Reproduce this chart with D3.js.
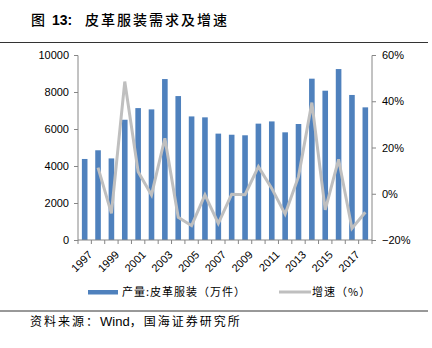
<!DOCTYPE html>
<html><head><meta charset="utf-8">
<script src="https://cdn.jsdelivr.net/npm/d3@7"></script>
<style>body{margin:0;background:#fff;}svg{display:block;}</style>
</head><body>
<script>
const years = ["1997","1998","1999","2000","2001","2002","2003","2004","2005","2006","2007","2008","2009","2010","2011","2012","2013","2014","2015","2016","2017","2018"];
const output = [4380,4850,4410,6500,7130,7060,8700,7780,6680,6630,5750,5690,5660,6290,6410,5820,6270,8720,8070,9240,7840,7170];
const growth = [null,11.3,-8.5,48.5,9.5,-0.5,24.0,-10.2,-13.8,-0.5,-12.8,-0.2,-0.4,11.7,2.3,-8.8,7.4,39.4,-7.0,14.9,-15.0,-8.0];
const leftTicks = [0,2000,4000,6000,8000,10000];
const rightTicks = [-20,0,20,40,60];
const xLabels = ["1997","1999","2001","2003","2005","2007","2009","2011","2013","2015","2017"];

const W=432,H=348;
const svg=d3.select("body").append("svg").attr("width",W).attr("height",H);
const font="Liberation Sans, Arial, sans-serif";
const cjk="'Noto Sans CJK SC', sans-serif";

const t=svg.append("text").attr("y",25).attr("font-family",cjk).attr("font-weight",500).attr("font-size",14).attr("fill","#000");
t.append("tspan").attr("x",31).text("图");
t.append("tspan").attr("x",52).attr("font-family",font).attr("font-weight","bold").attr("font-size",14).text("13:");
t.append("tspan").attr("x",85).attr("letter-spacing",2).text("皮革服装需求及增速");
svg.append("line").attr("x1",0).attr("x2",428).attr("y1",42.5).attr("y2",42.5).attr("stroke","#333").attr("stroke-width",1);

const x=d3.scaleBand().domain(years).range([78,372]).padding(0);
const yL=d3.scaleLinear().domain([0,10000]).range([240,55]);
const yR=d3.scaleLinear().domain([-20,60]).range([240,55]);
const axisColor="#868686";

// bars
svg.append("g").selectAll("rect").data(years).join("rect")
 .attr("x",d=>x(d)+x.bandwidth()/2-2.8).attr("width",5.6)
 .attr("y",(d,i)=>yL(output[i])).attr("height",(d,i)=>yL(0)-yL(output[i]))
 .attr("fill","#4F81BD");

// line
const line=d3.line().defined(d=>d.v!=null).x(d=>x(d.y)+x.bandwidth()/2).y(d=>yR(d.v));
svg.append("path").datum(years.map((y,i)=>({y,v:growth[i]})))
 .attr("d",line).attr("fill","none").attr("stroke","#BFBFBF").attr("stroke-width",3).attr("stroke-linejoin","miter");

// left axis
const gl=svg.append("g").attr("transform","translate(78,0)")
 .call(d3.axisLeft(yL).tickValues(leftTicks).tickSize(4).tickPadding(5).tickFormat(d3.format("d")));
// right axis
const gr=svg.append("g").attr("transform","translate(372,0)")
 .call(d3.axisRight(yR).tickValues(rightTicks).tickSize(4).tickPadding(6).tickFormat(d=>(d<0?"−":"")+Math.abs(d)+"%"));
// x axis
const gx=svg.append("g").attr("transform","translate(0,240)");
gx.append("line").attr("x1",78).attr("x2",372).attr("stroke",axisColor);
gx.selectAll("line.t").data(d3.range(years.length+1)).join("line").attr("class","t")
 .attr("x1",i=>78+i*x.bandwidth()).attr("x2",i=>78+i*x.bandwidth()).attr("y1",0).attr("y2",4).attr("stroke",axisColor);
gx.selectAll("text").data(xLabels).join("text")
 .attr("transform",d=>`translate(${x(d)+x.bandwidth()/2+3},${10}) rotate(-45)`)
 .attr("text-anchor","end").attr("dy","0.7em").attr("font-family",font).attr("font-size",11).attr("fill","#000").text(d=>d);

[gl,gr].forEach(g=>{
 g.selectAll("path.domain").attr("stroke",axisColor);
 g.selectAll(".tick line").attr("stroke",axisColor);
 g.selectAll("text").attr("font-family",font).attr("font-size",11).attr("fill","#000");
});
gl.select("path.domain").attr("d","M0,240.5V55.5");
gr.select("path.domain").attr("d","M0,240.5V55.5");

// legend
svg.append("rect").attr("x",88).attr("y",290).attr("width",30).attr("height",4.5).attr("fill","#4F81BD");
svg.append("text").attr("x",122).attr("y",296).attr("font-family",cjk).attr("font-size",11).attr("letter-spacing",1).attr("fill","#000").text("产量:皮革服装（万件）");
svg.append("line").attr("x1",279).attr("x2",311).attr("y1",292).attr("y2",292).attr("stroke","#BFBFBF").attr("stroke-width",3);
svg.append("text").attr("x",312).attr("y",296).attr("font-family",cjk).attr("font-size",11).attr("letter-spacing",1).attr("fill","#000").text("增速（%）");

svg.append("line").attr("x1",0).attr("x2",428).attr("y1",311).attr("y2",311).attr("stroke","#333").attr("stroke-width",1);
const s=svg.append("text").attr("y",326).attr("font-family",cjk).attr("font-size",12).attr("fill","#000");
s.append("tspan").attr("x",30).attr("letter-spacing",2).text("资料来源：");
s.append("tspan").attr("font-family",font).attr("font-size",13).text("Wind");
s.append("tspan").attr("letter-spacing",2).text("，国海证券研究所");
</script>
</body></html>
